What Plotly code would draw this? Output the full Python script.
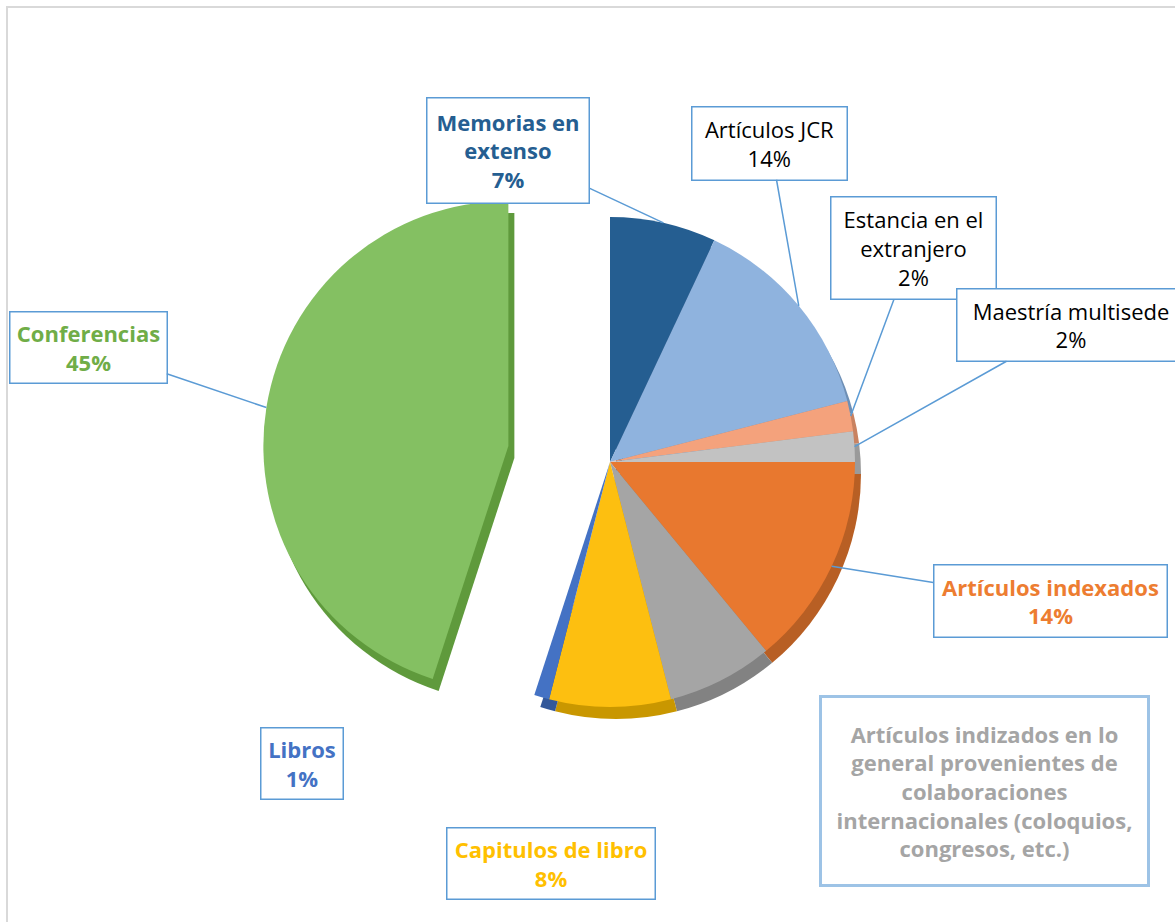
import math
import plotly.graph_objects as go

# Publication output by category (share of total, %)
labels = [
    "Memorias en extenso",
    "Artículos JCR",
    "Estancia en el extranjero",
    "Maestría multisede",
    "Artículos indexados",
    "Artículos indizados en lo general provenientes de colaboraciones internacionales (coloquios, congresos, etc.)",
    "Capitulos de libro",
    "Libros",
    "Conferencias",
]
values = [7, 14, 2, 2, 14, 7, 8, 1, 45]
colors = ["#255E91", "#8FB3DE", "#F4A27C", "#C2C2C2", "#E8782F",
          "#A5A5A5", "#FDBF10", "#4472C4", "#84C062"]
side_colors = ["#1B4670", "#6E8FB5", "#C98260", "#9A9A9A", "#B85F24",
               "#828282", "#C99700", "#33589A", "#5F9A3C"]
pulls = [0, 0, 0, 0, 0, 0, 0, 0, 0.42]

# Label box text (html) per category
box_text = [
    "Memorias en<br>extenso<br>7%",
    "Artículos JCR<br>14%",
    "Estancia en el<br>extranjero<br>2%",
    "Maestría multisede<br>2%",
    "Artículos indexados<br>14%",
    "Artículos indizados en lo<br>general provenientes de<br>colaboraciones<br>internacionales (coloquios,<br>congresos, etc.)",
    "Capitulos de libro<br>8%",
    "Libros<br>1%",
    "Conferencias<br>45%",
]
text_colors = ["#255E91", "#000000", "#000000", "#000000", "#ED7D31",
               "#A5A5A5", "#FFC000", "#4472C4", "#70AD47"]
bold = [True, False, False, False, True, True, True, True, True]
# box centre (px from top-left) and box size
box_pos = [(508, 150), (770, 143), (913, 248), (1071, 325), (1050, 601),
           (984, 791), (551, 863), (302, 763), (88, 347)]
box_size = [(164, 107), (157, 75), (167, 104), (230, 74), (235, 74),
            (328, 189), (210, 73), (84, 73), (159, 73)]
has_leader = [True, True, True, True, True, False, False, False, True]

W, H = 1175, 922
CX, CY = 610, 462      # pie centre, px
R = 245                # pie radius, px
PULL = max(pulls)
half = R * (1 + PULL)


def dom(cx, cy):
    return dict(x=[(cx - half) / W, (cx + half) / W],
                y=[(H - cy - half) / H, (H - cy + half) / H])


fig = go.Figure()
# darker copy underneath gives the pie some thickness
fig.add_trace(go.Pie(
    labels=labels, values=values, sort=False, direction="clockwise",
    rotation=0, pull=pulls, textinfo="none", hoverinfo="skip",
    marker=dict(colors=side_colors, line=dict(width=0)),
    domain=dom(CX + 6, CY + 12), showlegend=False,
))
fig.add_trace(go.Pie(
    labels=labels, values=values, sort=False, direction="clockwise",
    rotation=0, pull=pulls, textinfo="none",
    marker=dict(colors=colors, line=dict(width=0)),
    domain=dom(CX, CY), showlegend=False,
))

total = sum(values)
annotations = []
cum = 0
for i, v in enumerate(values):
    a0 = cum / total * 2 * math.pi
    cum += v
    a1 = cum / total * 2 * math.pi
    mid = (a0 + a1) / 2
    ox = pulls[i] * R * math.sin(mid)
    oy = -pulls[i] * R * math.cos(mid)
    tx = CX + ox + R * math.sin(mid)
    ty = CY + oy - R * math.cos(mid)
    bx, by = box_pos[i]
    bw, bh = box_size[i]
    txt = box_text[i]
    if bold[i]:
        txt = "<b>" + txt + "</b>"
    common = dict(
        text=txt, xref="paper", yref="paper",
        font=dict(family="Open Sans, sans-serif", size=22,
                  color=text_colors[i]),
        bgcolor="white", bordercolor="#5B9BD5" if i != 5 else "#9DC3E6",
        borderwidth=1.5 if i != 5 else 3, borderpad=0,
        width=bw - 3, height=bh - 3, align="center", valign="middle",
    )
    if has_leader[i]:
        annotations.append(dict(
            x=tx / W, y=(H - ty) / H, ax=bx - tx, ay=by - ty,
            showarrow=True, arrowhead=0, arrowwidth=1.5, arrowcolor="#5B9BD5",
            standoff=0, **common))
    else:
        annotations.append(dict(
            x=bx / W, y=(H - by) / H, xanchor="center", yanchor="middle",
            showarrow=False, **common))

fig.update_layout(
    width=W, height=H,
    margin=dict(l=0, r=0, t=0, b=0),
    paper_bgcolor="white", plot_bgcolor="white",
    annotations=annotations,
    shapes=[dict(type="rect", xref="paper", yref="paper",
                 x0=7 / W, x1=1.02, y0=-0.02, y1=(H - 7) / H,
                 line=dict(color="#D9D9D9", width=2))],
)

fig.write_html("out.html")
